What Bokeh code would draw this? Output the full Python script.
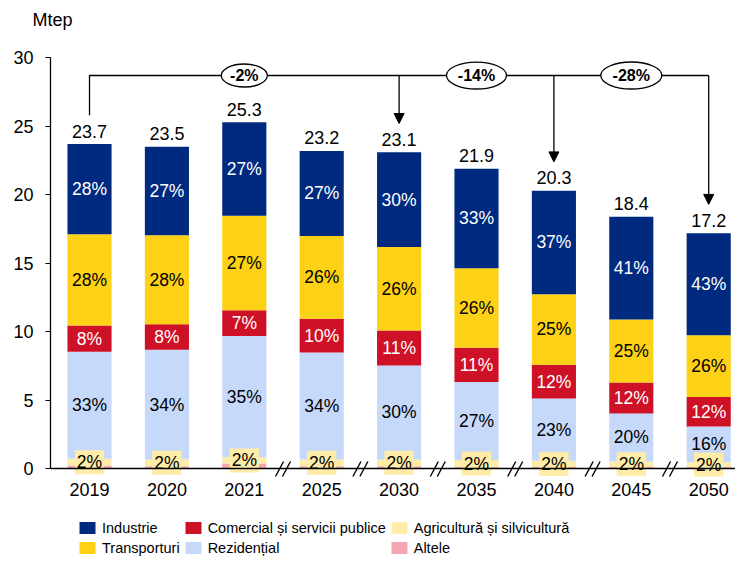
import numpy as np
from bokeh.plotting import figure
from bokeh.models import (ColumnDataSource, FixedTicker, Legend, LegendItem,
                          Label, Arrow, NormalHead, Range1d)
from bokeh.core.properties import value
from bokeh.embed import file_html
from bokeh.resources import INLINE

# ---------------- data ----------------
years = ["2019", "2020", "2021", "2025", "2030", "2035", "2040", "2045", "2050"]
altele = [0.25, 0.2, 0.4, 0.2, 0.2, 0.15, 0.15, 0.15, 0.15]
agricultura = [0.5, 0.5, 0.45, 0.5, 0.5, 0.5, 0.45, 0.4, 0.35]
rezidential = [7.8, 8.0, 8.85, 7.8, 6.85, 5.7, 4.55, 3.5, 2.6]
comercial = [1.92, 1.85, 1.87, 2.45, 2.55, 2.5, 2.45, 2.25, 2.15]
transporturi = [6.65, 6.5, 6.9, 6.05, 6.1, 5.8, 5.15, 4.6, 4.5]
industrie = [6.58, 6.45, 6.83, 6.2, 6.9, 7.25, 7.55, 7.5, 7.45]
totals = [23.7, 23.5, 25.3, 23.2, 23.1, 21.9, 20.3, 18.4, 17.2]
total_labels = ["23.7", "23.5", "25.3", "23.2", "23.1", "21.9", "20.3", "18.4", "17.2"]

pct_industrie = ["28%", "27%", "27%", "27%", "30%", "33%", "37%", "41%", "43%"]
pct_transporturi = ["28%", "28%", "27%", "26%", "26%", "26%", "25%", "25%", "26%"]
pct_comercial = ["8%", "8%", "7%", "10%", "11%", "11%", "12%", "12%", "12%"]
pct_rezidential = ["33%", "34%", "35%", "34%", "30%", "27%", "23%", "20%", "16%"]
pct_agricultura = ["2%", "2%", "2%", "2%", "2%", "2%", "2%", "2%", "2%"]

change_labels = ["-2%", "-14%", "-28%"]
change_label_idx = [2, 5, 7]        # categories where the ellipses sit
arrow_idx = [4, 6, 8]               # 2030, 2040, 2050
break_after = [2, 3, 4, 5, 6, 7]    # axis breaks between these categories and the next

series_names = ["Industrie", "Transporturi", "Comercial și servicii publice",
                "Rezidențial", "Agricultură și silvicultură", "Altele"]

# ---------------- styles ----------------
C_IND = "#002A7F"
C_TRA = "#FCD116"
C_COM = "#CE1126"
C_REZ = "#C6D9FB"
C_AGR = "#FFECA8"
C_ALT = "#F4A7B1"
FONT_NAME = "Liberation Sans"
FONT = value(FONT_NAME)

x = list(range(len(years)))
stack_keys = ["altele", "agricultura", "rezidential", "comercial", "transporturi", "industrie"]
stack_vals = [altele, agricultura, rezidential, comercial, transporturi, industrie]
stack_cols = [C_ALT, C_AGR, C_REZ, C_COM, C_TRA, C_IND]

data = dict(x=x)
for k, v in zip(stack_keys, stack_vals):
    data[k] = v
cum = np.cumsum(np.array(stack_vals), axis=0)
lower = np.vstack([np.zeros(len(x)), cum[:-1]])
mids = (cum + lower) / 2
for k, m in zip(stack_keys, mids):
    data[k + "_mid"] = list(m)
data["pct_industrie"] = pct_industrie
data["pct_transporturi"] = pct_transporturi
data["pct_comercial"] = pct_comercial
data["pct_rezidential"] = pct_rezidential
data["pct_agricultura"] = pct_agricultura
data["totals"] = totals
data["total_labels"] = total_labels
src = ColumnDataSource(data)

X0, X1 = -1.15, 8.3463
Y0, Y1 = -6.893, 34.172
AX_LEFT = -0.5039

p = figure(width=735, height=563, output_backend="svg", toolbar_location=None,
           x_range=Range1d(X0, X1), y_range=Range1d(Y0, Y1),
           min_border_left=0, min_border_right=0, min_border_top=0, min_border_bottom=0)
p.outline_line_color = None
p.xgrid.visible = False
p.ygrid.visible = False
p.background_fill_color = "white"

renderers = p.vbar_stack(stack_keys, x="x", width=0.57, color=stack_cols,
                         line_color=None, source=src)

# segment labels
def seg_text(key, textcol, color):
    p.text(x="x", y=key + "_mid", text=textcol, source=src, text_align="center",
           text_baseline="middle", text_color=color, text_font=FONT,
           text_font_size="17.5px")

seg_text("industrie", "pct_industrie", "white")
seg_text("transporturi", "pct_transporturi", "black")
seg_text("comercial", "pct_comercial", "white")
seg_text("rezidential", "pct_rezidential", "black")

p.text(x="x", y="agricultura_mid", text="pct_agricultura", source=src,
       text_align="center", text_baseline="middle", text_color="black",
       text_font=FONT, text_font_size="17.5px",
       background_fill_color=C_AGR, padding=2)

# totals
p.text(x="x", y="totals", text="total_labels", source=src, text_align="center",
       text_baseline="middle", y_offset=-13, text_color="black", text_font=FONT,
       text_font_size="18px")

# bracket annotation
y_br = 28.7
gap = 2.1
p.line(x=[x[0], x[0], x[-1]], y=[totals[0] + gap, y_br, y_br], line_color="black", line_width=1.3)
for i in arrow_idx:
    p.add_layout(Arrow(x_start=x[i], y_start=y_br, x_end=x[i], y_end=totals[i] + gap,
                       line_color="black", line_width=1.3,
                       end=NormalHead(size=10, fill_color="black", line_color="black")))
p.ellipse(x=[x[i] for i in change_label_idx], y=[y_br] * 3, width=[46, 60, 61],
          height=[23, 27, 27], width_units="screen", height_units="screen",
          fill_color="white", line_color="black", line_width=1.3)
p.text(x=[x[i] for i in change_label_idx], y=[y_br] * 3, text=change_labels,
       text_align="center", text_baseline="middle", text_font=FONT,
       text_font_size="16px", text_font_style="bold", text_color="black")

# axis breaks
bx = []
for i in break_after:
    bx += [x[i] + 0.5 - 0.045, x[i] + 0.5 + 0.045]
p.scatter(x=bx, y=[0] * len(bx), marker="dash", size=17, angle=1.08,
          line_color="black", line_width=1.4)

# axes (drawn at fixed data locations inside the frame)
p.yaxis.fixed_location = AX_LEFT
p.yaxis.ticker = FixedTicker(ticks=[0, 5, 10, 15, 20, 25, 30])
p.yaxis.bounds = (0, 30)
p.yaxis.major_tick_out = 5
p.yaxis.major_tick_in = 0
p.yaxis.minor_tick_line_color = None
p.yaxis.axis_line_color = "black"
p.yaxis.axis_line_width = 1.3
p.yaxis.major_tick_line_color = "black"
p.yaxis.major_label_standoff = 12
p.yaxis.major_label_text_font = FONT_NAME
p.yaxis.major_label_text_font_size = "18px"
p.yaxis.major_label_text_color = "black"

p.xaxis.fixed_location = 0
p.xaxis.ticker = FixedTicker(ticks=x)
p.xaxis.bounds = (AX_LEFT, X1)
p.xaxis.major_label_overrides = {i: y for i, y in zip(x, years)}
p.xaxis.axis_line_color = "black"
p.xaxis.axis_line_width = 1.3
p.xaxis.major_tick_line_color = None
p.xaxis.minor_tick_line_color = None
p.xaxis.major_label_standoff = 8
p.xaxis.major_label_text_font = FONT_NAME
p.xaxis.major_label_text_font_size = "18px"
p.xaxis.major_label_text_color = "black"

# unit label
p.add_layout(Label(x=-0.736, y=32.74, text="Mtep", text_align="left", text_baseline="middle",
                   text_font=FONT_NAME, text_font_size="18px", text_color="black"))

# legend
r_by_key = dict(zip(stack_keys, renderers))
legend_order = ["industrie", "transporturi", "comercial", "rezidential", "agricultura", "altele"]
items = [LegendItem(label=n, renderers=[r_by_key[k]]) for n, k in zip(series_names, legend_order)]
legend = Legend(items=items, orientation="vertical", nrows=2, location=(77, 7),
                padding=5, spacing=3, margin=0, glyph_width=20, glyph_height=15,
                label_standoff=5, label_height=17,
                label_text_font=FONT_NAME, label_text_font_size="14.5px",
                label_text_color="black",
                border_line_color=None, background_fill_alpha=0)
p.add_layout(legend)

open("out.html", "w").write(file_html(p, INLINE))
